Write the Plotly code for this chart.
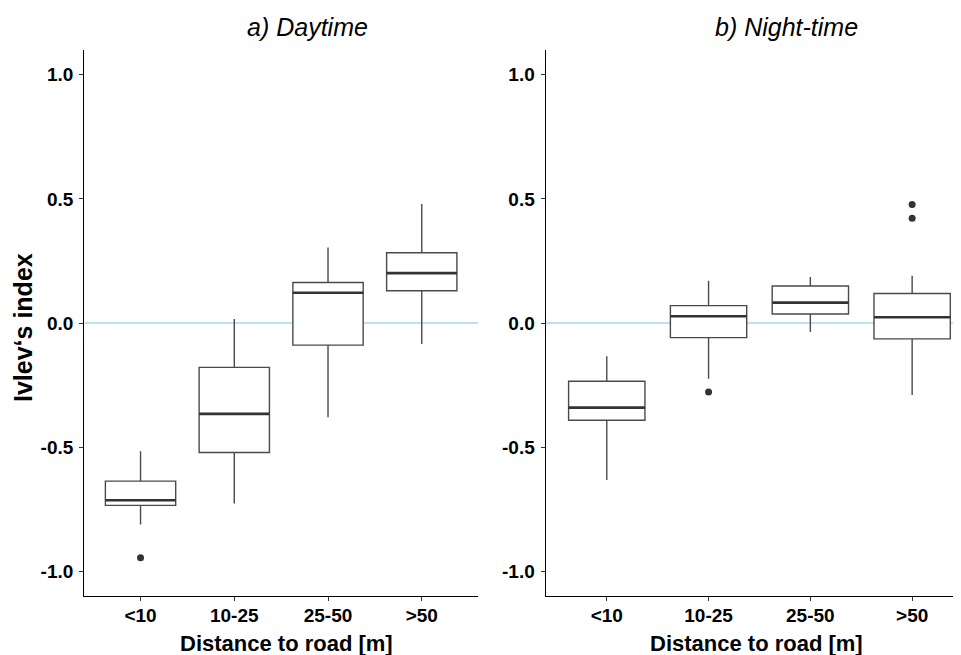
import plotly.graph_objects as go

categories = ["<10", "10-25", "25-50", ">50"]
y_ticks = [-1.0, -0.5, 0.0, 0.5, 1.0]
y_ticktext = ["-1.0", "-0.5", "0.0", "0.5", "1.0"]

# a) Daytime
day_lower = [-0.812, -0.727, -0.380, -0.085]
day_q1 = [-0.735, -0.522, -0.089, 0.130]
day_median = [-0.714, -0.366, 0.122, 0.201]
day_q3 = [-0.637, -0.179, 0.163, 0.283]
day_upper = [-0.517, 0.016, 0.304, 0.479]
day_out_cat = ["<10"]
day_out_val = [-0.946]

# b) Night-time
night_lower = [-0.633, -0.225, -0.036, -0.290]
night_q1 = [-0.392, -0.059, 0.036, -0.064]
night_median = [-0.341, 0.027, 0.082, 0.023]
night_q3 = [-0.235, 0.070, 0.149, 0.119]
night_upper = [-0.134, 0.170, 0.185, 0.190]
night_out_cat = ["10-25", ">50", ">50"]
night_out_val = [-0.278, 0.477, 0.422]

FONT = "Liberation Sans, Arial, sans-serif"
BOXC = "#4a4a4a"
DARK = "#333333"
OFF = 8          # page body margin offset
W = 961 - OFF
H = 655 - OFF
BOX_W = 0.75

idx = {c: i for i, c in enumerate(categories)}
xs = list(range(len(categories)))

fig = go.Figure()


def add_panel(lo, q1, med, q3, up, oc, ov, xa, ya):
    fig.add_trace(go.Box(
        x=xs, q1=q1, median=med, q3=q3, lowerfence=lo, upperfence=up,
        width=BOX_W, whiskerwidth=0, boxpoints=False,
        fillcolor="white", line=dict(color=BOXC, width=1.4),
        showlegend=False, xaxis=xa, yaxis=ya, hoverinfo="skip"))
    mx, my = [], []
    for i, m in zip(xs, med):
        mx += [i - BOX_W / 2, i + BOX_W / 2, None]
        my += [m, m, None]
    fig.add_trace(go.Scatter(x=mx, y=my, mode="lines",
                             line=dict(color=DARK, width=2.6),
                             showlegend=False, xaxis=xa, yaxis=ya, hoverinfo="skip"))
    fig.add_trace(go.Scatter(x=[idx[c] for c in oc], y=ov, mode="markers",
                             marker=dict(color=DARK, size=7),
                             showlegend=False, xaxis=xa, yaxis=ya, hoverinfo="skip"))


add_panel(day_lower, day_q1, day_median, day_q3, day_upper, day_out_cat, day_out_val, "x", "y")
add_panel(night_lower, night_q1, night_median, night_q3, night_upper, night_out_cat, night_out_val, "x2", "y2")

# zero reference lines
for xr, yr in (("x domain", "y"), ("x2 domain", "y2")):
    fig.add_shape(type="line", xref=xr, yref=yr, x0=0, x1=1, y0=0, y1=0,
                  line=dict(color="#a3dde4", width=1.3), layer="below")

tickfont = dict(family=FONT, size=19, color="black", weight="bold")
xcommon = dict(tickmode="array", tickvals=xs, ticktext=categories,
               showline=True, linecolor="black", linewidth=1.3,
               ticks="outside", ticklen=4, tickcolor=DARK, tickwidth=1.2,
               showgrid=False, zeroline=False, tickfont=tickfont,
               ticklabelstandoff=-2)
ycommon = dict(range=[-1.1, 1.1], tickmode="array", tickvals=y_ticks, ticktext=y_ticktext,
               showline=True, linecolor="black", linewidth=1.3,
               ticks="outside", ticklen=4, tickcolor=DARK, tickwidth=1.2,
               showgrid=False, zeroline=False, tickfont=tickfont,
               ticklabelstandoff=2)


def px(p):
    return (p - OFF) / W


def py(p):
    return (596 - p) / 546


fig.update_layout(
    width=W, height=H,
    margin=dict(l=0, r=0, t=50 - OFF, b=H - (596 - OFF)),
    paper_bgcolor="white", plot_bgcolor="white",
    font=dict(family=FONT, color="black"),
    xaxis=dict(domain=[px(84.3), px(478.0)], range=[-0.6, 3.6], anchor="y", **xcommon),
    yaxis=dict(domain=[0, 1], anchor="x", **ycommon),
    xaxis2=dict(domain=[px(545.7), 1.0], range=[-0.6, 3.48], anchor="y2", **xcommon),
    yaxis2=dict(domain=[0, 1], anchor="x2", **ycommon),
)

ann = [
    dict(text="<i>a) Daytime</i>", x=px(307.5), y=py(27), size=25),
    dict(text="<i>b) Night-time</i>", x=px(786.0), y=py(27), size=25),
    dict(text="<b>Distance to road [m]</b>", x=px(286.7), y=py(643), size=22),
    dict(text="<b>Distance to road [m]</b>", x=px(756.7), y=py(643), size=22),
]
for a in ann:
    fig.add_annotation(text=a["text"], xref="paper", yref="paper", x=a["x"], y=a["y"],
                       xanchor="center", yanchor="middle", showarrow=False,
                       font=dict(family=FONT, size=a["size"], color="black"))
fig.add_annotation(text="<b>Ivlev‘s index</b>", xref="paper", yref="paper",
                   x=px(23), y=py(328), xanchor="center", yanchor="middle",
                   textangle=-90, showarrow=False,
                   font=dict(family=FONT, size=25, color="black"))

fig.write_html("out.html")
